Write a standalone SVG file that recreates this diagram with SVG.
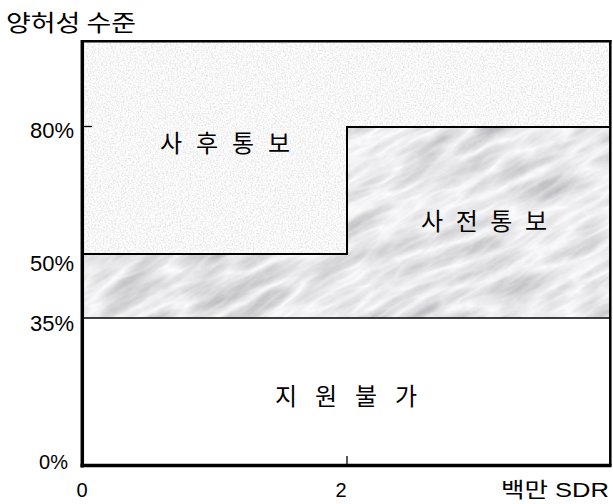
<svg xmlns="http://www.w3.org/2000/svg" width="613" height="504" viewBox="0 0 613 504">
<style>
.lbl{font-family:"Liberation Sans","Noto Sans CJK KR",sans-serif;fill:#000}
.kr{font-family:"Noto Sans CJK KR","Liberation Sans",sans-serif;fill:#000}
.ln{stroke:#000;fill:none}
</style>
<defs>
<filter id="granite" filterUnits="userSpaceOnUse" x="80" y="38" width="535" height="280">
<feTurbulence type="fractalNoise" baseFrequency="0.6" numOctaves="2" seed="3" result="n"/>
<feColorMatrix in="n" type="matrix" values="0.5 0 0 0 0.68  0.5 0 0 0 0.68  0.5 0 0 0 0.68  0 0 0 0 1"/>
</filter>
<filter id="marble" filterUnits="userSpaceOnUse" x="-400" y="-200" width="1400" height="1000">
<feTurbulence type="turbulence" baseFrequency="0.012 0.045" numOctaves="5" seed="11" result="n"/>
<feColorMatrix in="n" type="matrix" values="-0.6 0 0 0 1.0  -0.6 0 0 0 1.0  -0.58 0 0 0 1.01  0 0 0 0 1"/>
</filter>
<clipPath id="cg"><polygon points="83,41 611,41 611,127 347,127 347,254 83,254"/></clipPath>
<clipPath id="cm"><polygon points="83,254 347,254 347,127 611,127 611,318 83,318"/></clipPath>
</defs>
<rect width="613" height="504" fill="#fff"/>
<text class="kr" x="6" y="31" font-size="23" textLength="130" lengthAdjust="spacingAndGlyphs">양허성 수준</text>
<g id="post-notice">
<g clip-path="url(#cg)"><rect x="80" y="38" width="535" height="280" filter="url(#granite)"/></g>
<text class="kr" x="160" y="152" font-size="24" textLength="130" lengthAdjust="spacing">사 후 통 보</text>
</g>
<g id="pre-notice">
<g clip-path="url(#cm)"><g transform="rotate(-28 345 222)"><rect x="-100" y="-100" width="900" height="700" filter="url(#marble)"/></g></g>
<text class="kr" x="421" y="230" font-size="24" textLength="126" lengthAdjust="spacing">사 전 통 보</text>
</g>
<g id="not-eligible">
<text class="kr" x="275" y="405" font-size="24" textLength="142" lengthAdjust="spacing">지 원 불 가</text>
</g>
<g id="connectors">
<polyline class="ln" stroke-width="2" points="83,254 347,254 347,127 611,127"/>
<line class="ln" stroke-width="1.6" x1="83" y1="318" x2="611" y2="318"/>
<line class="ln" stroke-width="2.5" x1="82" y1="41.3" x2="611.5" y2="41.3"/>
<line class="ln" stroke-width="2.5" x1="610.3" y1="40" x2="610.3" y2="466"/>
<line class="ln" stroke-width="3.5" x1="82.3" y1="40" x2="82.3" y2="467.5"/>
<line class="ln" stroke-width="3.5" x1="80.5" y1="465.5" x2="611.5" y2="465.5"/>
<line class="ln" stroke-width="1.3" x1="83" y1="126.5" x2="92" y2="126.5"/>
<line class="ln" stroke-width="1.3" x1="347" y1="456" x2="347" y2="465"/>
</g>
<g id="axis-labels">
<text class="lbl" x="74" y="138" font-size="22" text-anchor="end">80%</text>
<text class="lbl" x="74" y="271" font-size="22" text-anchor="end">50%</text>
<text class="lbl" x="74" y="331" font-size="22" text-anchor="end">35%</text>
<text class="lbl" x="68" y="469" font-size="20" text-anchor="end">0%</text>
<text class="lbl" x="82" y="497" font-size="20" text-anchor="middle">0</text>
<text class="lbl" x="341" y="497" font-size="20" text-anchor="middle">2</text>
<text class="lbl" x="501" y="497" font-size="21" textLength="108" lengthAdjust="spacingAndGlyphs">백만 SDR</text>
</g>
</svg>
